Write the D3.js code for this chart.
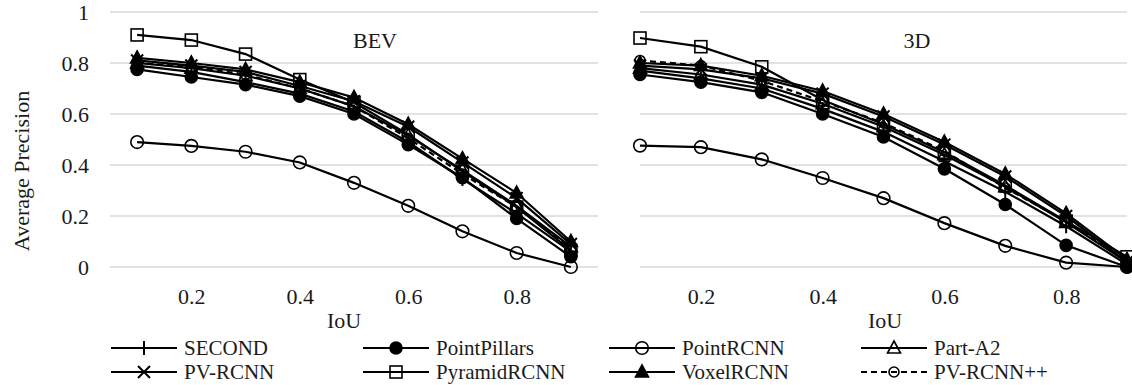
<!DOCTYPE html>
<html>
<head>
<meta charset="utf-8">
<script src="https://cdn.jsdelivr.net/npm/d3@7"></script>
<style>
  html, body { margin: 0; padding: 0; background: #fff; }
  svg { display: block; font-family: "Liberation Serif", "Times New Roman", Times, "DejaVu Serif", serif; }
  svg text { font-family: "Liberation Serif", "Times New Roman", Times, "DejaVu Serif", serif !important; fill: #1a1a1a; }
</style>
</head>
<body>
<svg id="chart" width="1132" height="385"></svg>
<script>
// ---------- data ----------
const iou = [0.1, 0.2, 0.3, 0.4, 0.5, 0.6, 0.7, 0.8, 0.9];
const seriesNames = ["SECOND", "PointPillars", "PointRCNN", "Part-A2", "PV-RCNN", "PyramidRCNN", "VoxelRCNN", "PV-RCNN++"];
const markerTypes = ["plus", "dot", "circle", "triangle", "x", "square", "filledTriangle", "smallCircle"];
const panelTitles = ["BEV", "3D"];
const yTicks = [0, 0.2, 0.4, 0.6, 0.8, 1];
const xTicks = [0.2, 0.4, 0.6, 0.8];

const bevSECOND       = [0.79, 0.765, 0.725, 0.68, 0.61, 0.49, 0.345, 0.21, 0.06];
const bevPointPillars = [0.775, 0.745, 0.715, 0.67, 0.60, 0.48, 0.35, 0.19, 0.04];
const bevPointRCNN    = [0.49, 0.475, 0.452, 0.41, 0.33, 0.24, 0.14, 0.055, 0.0];
const bevPartA2       = [0.80, 0.78, 0.75, 0.70, 0.63, 0.515, 0.38, 0.24, 0.08];
const bevPVRCNN       = [0.81, 0.79, 0.765, 0.71, 0.65, 0.55, 0.41, 0.27, 0.09];
const bevPyramidRCNN  = [0.91, 0.89, 0.835, 0.735, 0.645, 0.52, 0.375, 0.235, 0.065];
const bevVoxelRCNN    = [0.82, 0.80, 0.775, 0.725, 0.665, 0.56, 0.425, 0.29, 0.10];
const bevPVRCNNpp     = [0.80, 0.785, 0.755, 0.70, 0.63, 0.505, 0.365, 0.235, 0.07];

const d3SECOND        = [0.77, 0.74, 0.70, 0.62, 0.53, 0.415, 0.295, 0.16, 0.01];
const d3PointPillars  = [0.755, 0.725, 0.685, 0.60, 0.51, 0.385, 0.245, 0.085, 0.0];
const d3PointRCNN     = [0.476, 0.47, 0.422, 0.349, 0.27, 0.172, 0.083, 0.017, 0.0];
const d3PartA2        = [0.78, 0.755, 0.715, 0.64, 0.55, 0.44, 0.315, 0.175, 0.02];
const d3PVRCNN        = [0.79, 0.775, 0.74, 0.68, 0.59, 0.48, 0.355, 0.20, 0.02];
const d3PyramidRCNN   = [0.898, 0.864, 0.785, 0.655, 0.56, 0.45, 0.32, 0.18, 0.04];
const d3VoxelRCNN     = [0.80, 0.79, 0.75, 0.69, 0.60, 0.49, 0.365, 0.21, 0.03];
const d3PVRCNNpp      = [0.81, 0.79, 0.73, 0.65, 0.565, 0.455, 0.31, 0.18, 0.02];

const bevSeries = [bevSECOND, bevPointPillars, bevPointRCNN, bevPartA2, bevPVRCNN, bevPyramidRCNN, bevVoxelRCNN, bevPVRCNNpp];
const d3Series  = [d3SECOND, d3PointPillars, d3PointRCNN, d3PartA2, d3PVRCNN, d3PyramidRCNN, d3VoxelRCNN, d3PVRCNNpp];

// ---------- layout ----------
const FF = '"Liberation Serif", "Times New Roman", Times, "DejaVu Serif", serif';
const svg = d3.select("#chart");
const FONT = 22;
const LEGEND_FONT = 21;
const y = d3.scaleLinear().domain([0, 1]).range([267, 12]);

const panels = [
  { title: panelTitles[0], data: bevSeries, x: d3.scaleLinear().domain([0.05, 0.95]).range([110, 598]), titleX: 375, iouX: 344, yLabels: true },
  { title: panelTitles[1], data: d3Series,  x: d3.scaleLinear().domain([0.1, 0.9]).range([640, 1127]), titleX: 917, iouX: 885, yLabels: false }
];

function drawMarker(g, type, cx, cy) {
  const s = 6;
  let sw = 1.6;
  let el;
  switch (type) {
    case "plus":
      el = g.append("path").attr("d", `M${cx - s},${cy}H${cx + s}M${cx},${cy - s - 1}V${cy + s + 1}`).attr("fill", "none");
      sw = 2; break;
    case "x":
      el = g.append("path").attr("d", `M${cx - s},${cy - s}L${cx + s},${cy + s}M${cx - s},${cy + s}L${cx + s},${cy - s}`).attr("fill", "none");
      sw = 2; break;
    case "dot":
      el = g.append("circle").attr("cx", cx).attr("cy", cy).attr("r", 6).attr("fill", "#000"); break;
    case "circle":
      el = g.append("circle").attr("cx", cx).attr("cy", cy).attr("r", 6.3).attr("fill", "none"); break;
    case "smallCircle":
      el = g.append("circle").attr("cx", cx).attr("cy", cy).attr("r", 5).attr("fill", "none"); break;
    case "square":
      el = g.append("rect").attr("x", cx - 6).attr("y", cy - 6).attr("width", 12).attr("height", 12).attr("fill", "none"); break;
    case "triangle":
      el = g.append("path").attr("d", `M${cx},${cy - 7}L${cx + 6.5},${cy + 5}L${cx - 6.5},${cy + 5}Z`).attr("fill", "none"); break;
    case "filledTriangle":
      el = g.append("path").attr("d", `M${cx},${cy - 7}L${cx + 6.5},${cy + 5}L${cx - 6.5},${cy + 5}Z`).attr("fill", "#000"); break;
  }
  el.attr("stroke", "#000").attr("stroke-width", sw);
}

panels.forEach(p => {
  const g = svg.append("g");
  const [x0, x1] = p.x.range();
  // gridlines
  g.append("g").selectAll("line").data(yTicks).join("line")
    .attr("x1", x0).attr("x2", x1)
    .attr("y1", d => y(d)).attr("y2", d => y(d))
    .attr("stroke", "#d9d9d9").attr("stroke-width", 1.5);

  // y tick labels
  if (p.yLabels) {
    g.append("g").selectAll("text").data(yTicks).join("text")
      .attr("x", 89).attr("y", d => y(d)).attr("dy", "0.35em")
      .attr("text-anchor", "end").attr("font-size", FONT).attr("font-family", FF)
      .text(d => d3.format("")(d));
  }

  // x axis (labels only)
  const xAxis = d3.axisBottom(p.x).tickValues(xTicks).tickSize(0).tickPadding(0).tickFormat(d3.format(".1f"));
  const ax = g.append("g").attr("transform", `translate(0,${288})`).call(xAxis)
    .attr("font-family", FF).attr("font-size", FONT);
  ax.select(".domain").remove();
  ax.selectAll("text").attr("font-size", FONT).attr("font-family", FF).attr("fill", "#1a1a1a").attr("dy", "0.71em");

  // axis title
  g.append("text").attr("x", p.iouX).attr("y", 320).attr("dy", "0.35em")
    .attr("text-anchor", "middle").attr("font-size", FONT).attr("font-family", FF).text("IoU");

  // panel title
  g.append("text").attr("x", p.titleX).attr("y", 40).attr("dy", "0.35em")
    .attr("text-anchor", "middle").attr("font-size", FONT).attr("font-family", FF).text(p.title);

  // series
  const line = d3.line().x((d, i) => p.x(iou[i])).y(d => y(d));
  p.data.forEach((vals, si) => {
    const sg = g.append("g");
    sg.append("path").datum(vals).attr("d", line)
      .attr("fill", "none").attr("stroke", "#000").attr("stroke-width", 2.2)
      .attr("stroke-dasharray", seriesNames[si] === "PV-RCNN++" ? "6,4" : null);
    vals.forEach((v, i) => drawMarker(sg, markerTypes[si], p.x(iou[i]), y(v)));
  });
});

// y axis title
svg.append("text")
  .attr("transform", `translate(21,171) rotate(-90)`)
  .attr("dy", "0.35em").attr("text-anchor", "middle").attr("font-size", FONT).attr("font-family", FF)
  .text("Average Precision");

// legend
const legendColX = [111, 363, 609, 861];
const legendRowY = [348, 372];
const lg = svg.append("g");
seriesNames.forEach((name, i) => {
  const cx = legendColX[i % 4], cy = legendRowY[Math.floor(i / 4)];
  const item = lg.append("g");
  item.append("line").attr("x1", cx).attr("x2", cx + 66).attr("y1", cy).attr("y2", cy)
    .attr("stroke", "#000").attr("stroke-width", 2.2)
    .attr("stroke-dasharray", name === "PV-RCNN++" ? "6,4" : null);
  drawMarker(item, markerTypes[i], cx + 33, cy);
  item.append("text").attr("x", cx + 73).attr("y", cy).attr("dy", "0.35em")
    .attr("font-size", LEGEND_FONT).attr("font-family", FF).text(name);
});
</script>
</body>
</html>
